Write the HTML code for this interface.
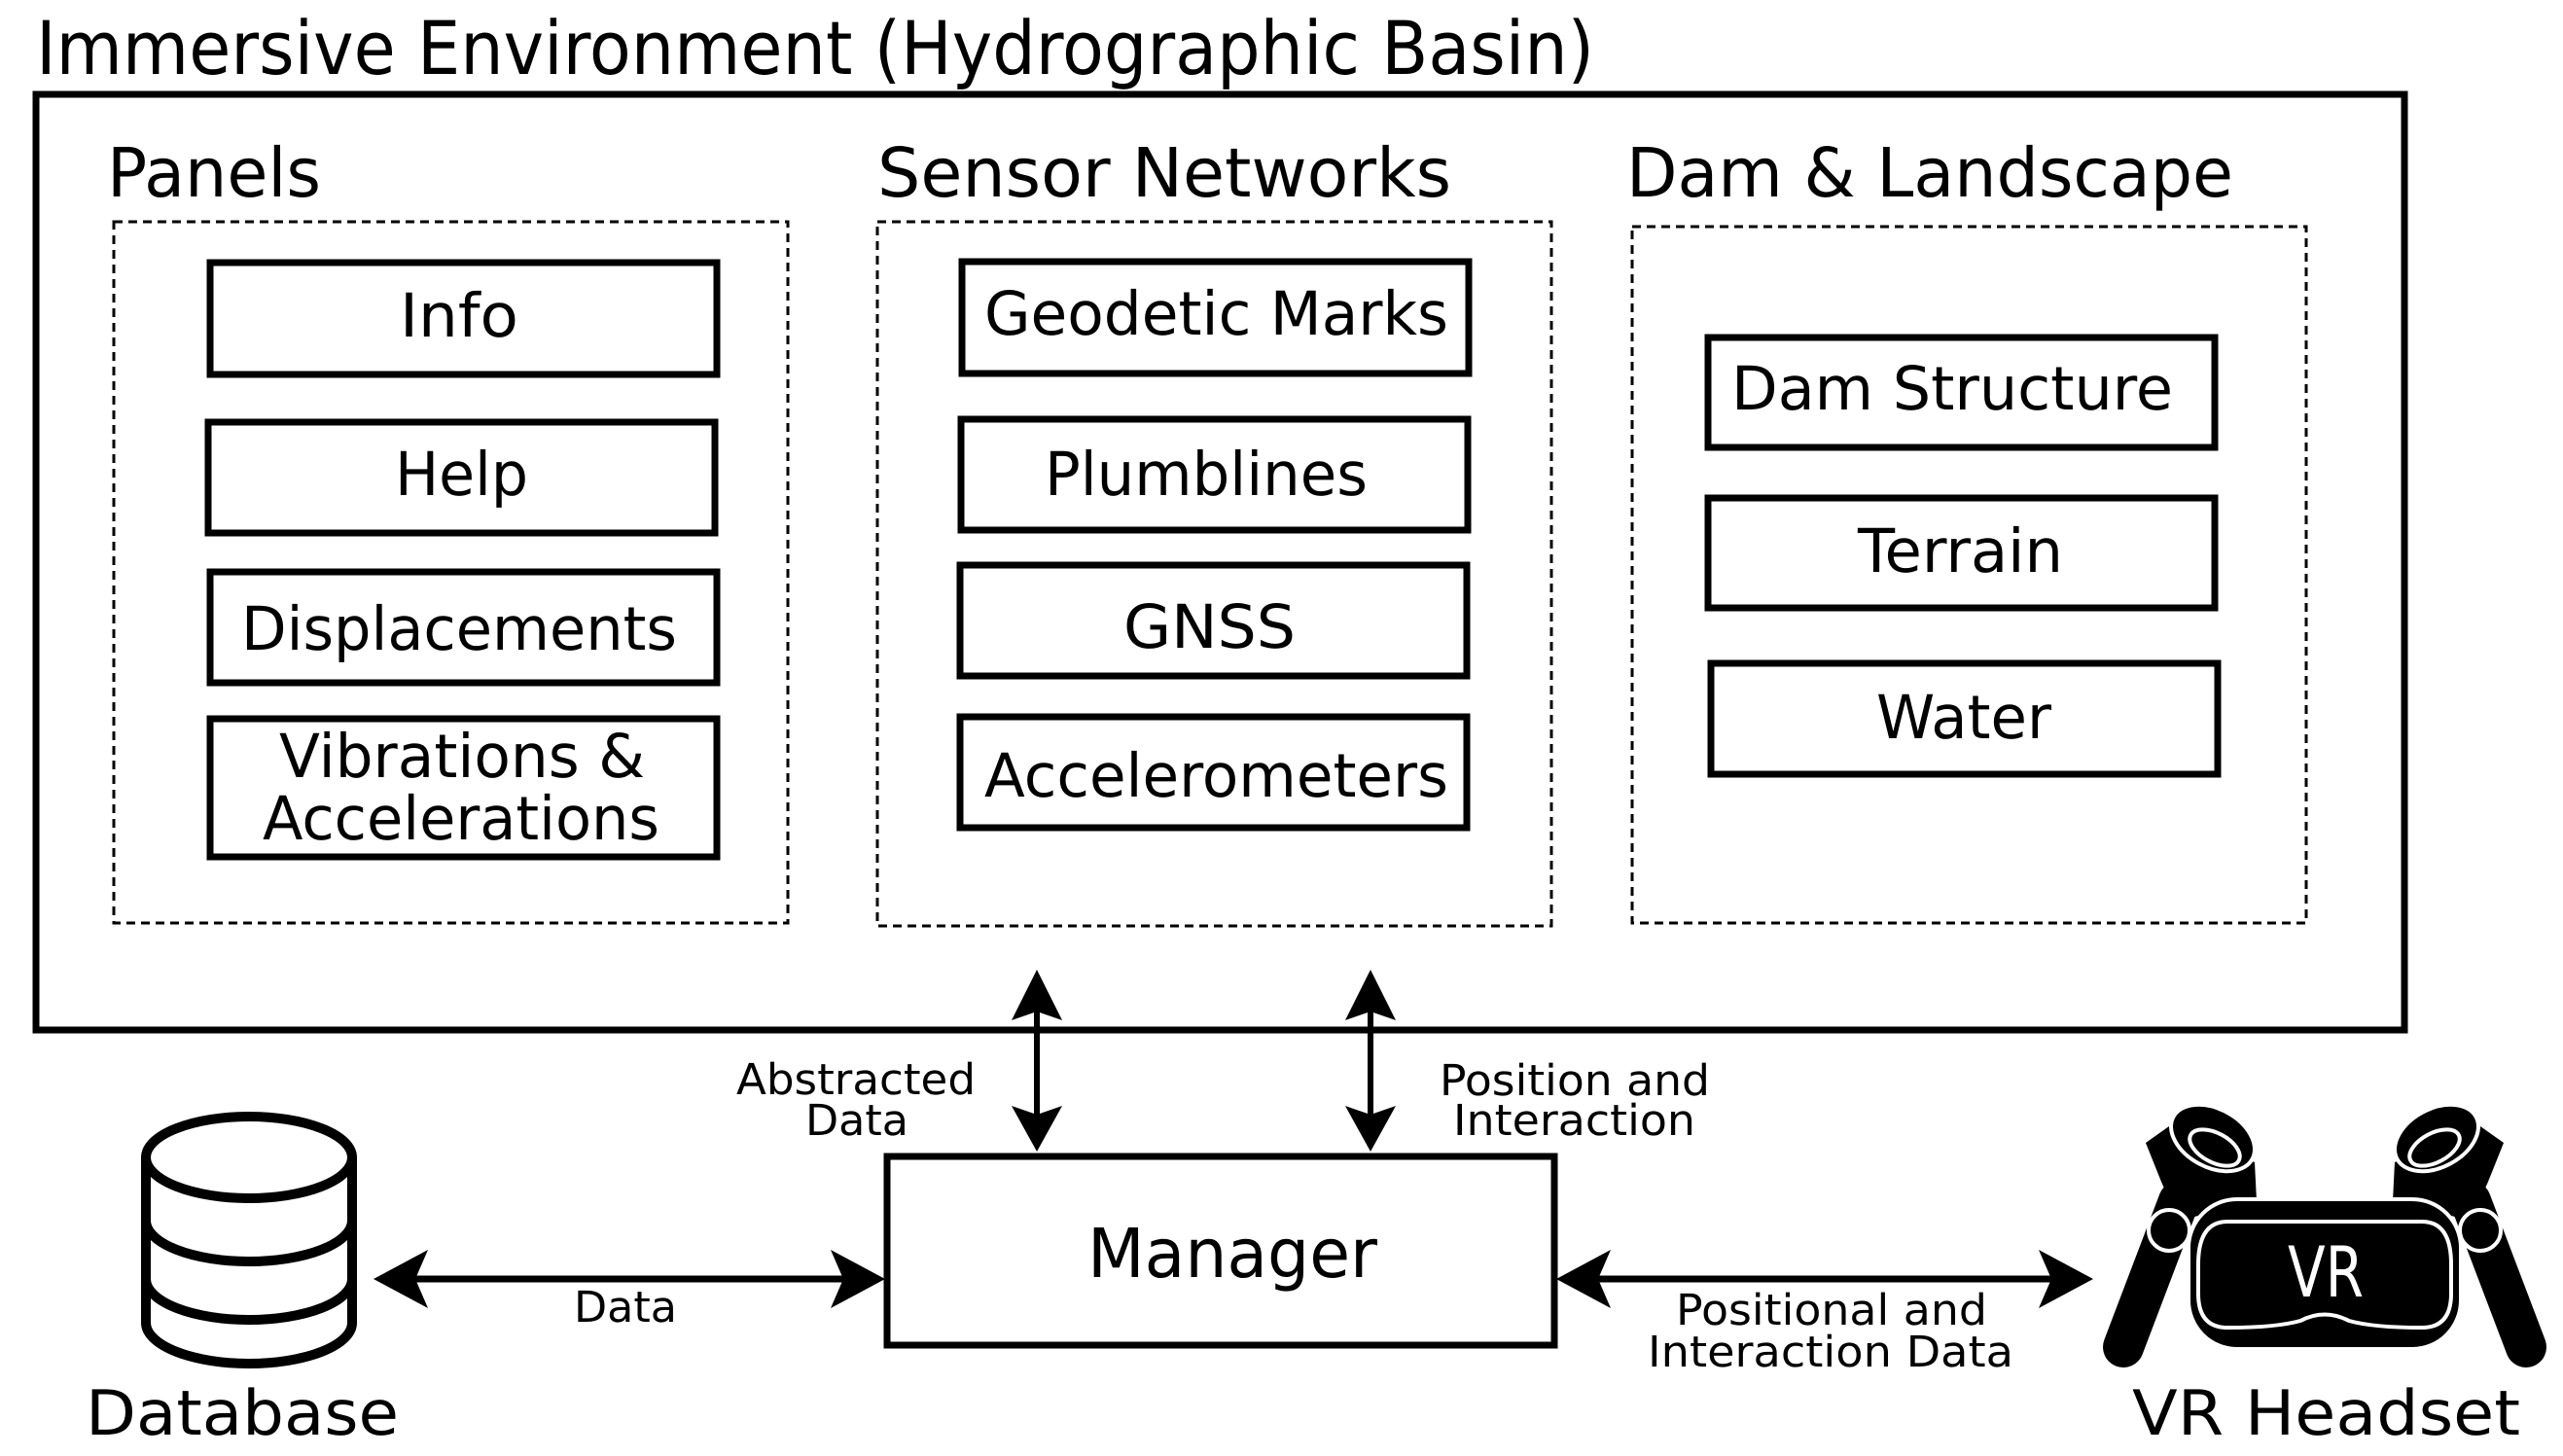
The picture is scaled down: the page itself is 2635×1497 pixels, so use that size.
<!DOCTYPE html>
<html><head><meta charset="utf-8"><style>html,body{margin:0;padding:0;background:#fff}svg{display:block}</style></head>
<body>
<svg width="2635" height="1497" viewBox="0 0 2635 1497" xmlns="http://www.w3.org/2000/svg" font-family="'DejaVu Sans','Liberation Sans',sans-serif" fill="#000">
<g text-rendering="geometricPrecision">
<text x="37" y="76" font-size="76" textLength="1602" lengthAdjust="spacingAndGlyphs">Immersive Environment (Hydrographic Basin)</text>
<rect x="37" y="97" width="2435" height="962" fill="none" stroke="#000" stroke-width="7"/>
<text x="110" y="202" font-size="70" textLength="220" lengthAdjust="spacingAndGlyphs">Panels</text>
<text x="902" y="202" font-size="70" textLength="590" lengthAdjust="spacingAndGlyphs">Sensor Networks</text>
<text x="1672" y="202" font-size="70" textLength="624" lengthAdjust="spacingAndGlyphs">Dam &amp; Landscape</text>
<g fill="none" stroke="#000" stroke-width="3" stroke-dasharray="9,6">
<rect x="117" y="228" width="693" height="721"/>
<rect x="902" y="228" width="693" height="724"/>
<rect x="1678" y="233" width="693" height="716"/>
</g>
<g fill="none" stroke="#000" stroke-width="7">
<rect x="216" y="270" width="521" height="115"/>
<rect x="214" y="434" width="521" height="114"/>
<rect x="216" y="588" width="521" height="114"/>
<rect x="216" y="739" width="521" height="142"/>
<rect x="989" y="269" width="521" height="115"/>
<rect x="988" y="431" width="521" height="114"/>
<rect x="987" y="581" width="521" height="114"/>
<rect x="987" y="737" width="521" height="114"/>
<rect x="1756" y="347" width="521" height="113"/>
<rect x="1756" y="512" width="521" height="113"/>
<rect x="1759" y="682" width="521" height="114"/>
<rect x="912" y="1189" width="686" height="194"/>
</g>
<g font-size="62">
<text x="411" y="346" textLength="122" lengthAdjust="spacingAndGlyphs">Info</text>
<text x="406" y="509" textLength="137" lengthAdjust="spacingAndGlyphs">Help</text>
<text x="248" y="668" textLength="448" lengthAdjust="spacingAndGlyphs">Displacements</text>
<text x="287" y="799" textLength="376" lengthAdjust="spacingAndGlyphs">Vibrations &amp;</text>
<text x="270" y="863" textLength="408" lengthAdjust="spacingAndGlyphs">Accelerations</text>
<text x="1012" y="344" textLength="477" lengthAdjust="spacingAndGlyphs">Geodetic Marks</text>
<text x="1074" y="509" textLength="332" lengthAdjust="spacingAndGlyphs">Plumblines</text>
<text x="1155" y="666" textLength="177" lengthAdjust="spacingAndGlyphs">GNSS</text>
<text x="1012" y="819" textLength="477" lengthAdjust="spacingAndGlyphs">Accelerometers</text>
<text x="1780" y="421" textLength="454" lengthAdjust="spacingAndGlyphs">Dam Structure</text>
<text x="1910" y="588" textLength="211" lengthAdjust="spacingAndGlyphs">Terrain</text>
<text x="1929" y="759" textLength="180" lengthAdjust="spacingAndGlyphs">Water</text>
</g>
<text x="1118" y="1313" font-size="70" textLength="298" lengthAdjust="spacingAndGlyphs">Manager</text>
<g font-size="44">
<text x="757" y="1125" textLength="246" lengthAdjust="spacingAndGlyphs">Abstracted</text>
<text x="828" y="1167" textLength="106" lengthAdjust="spacingAndGlyphs">Data</text>
<text x="1480" y="1126" textLength="278" lengthAdjust="spacingAndGlyphs">Position and</text>
<text x="1494" y="1167" textLength="249" lengthAdjust="spacingAndGlyphs">Interaction</text>
<text x="590" y="1359" textLength="106" lengthAdjust="spacingAndGlyphs">Data</text>
<text x="1723" y="1362" textLength="320" lengthAdjust="spacingAndGlyphs">Positional and</text>
<text x="1694" y="1405" textLength="376" lengthAdjust="spacingAndGlyphs">Interaction Data</text>
</g>
<text x="88" y="1475" font-size="64" textLength="322" lengthAdjust="spacingAndGlyphs">Database</text>
<text x="2192" y="1475" font-size="64" textLength="399" lengthAdjust="spacingAndGlyphs">VR Headset</text>
<!-- vertical arrows -->
<g stroke="#000" stroke-width="6">
<line x1="1066" y1="1030" x2="1066" y2="1150"/>
<line x1="1409" y1="1030" x2="1409" y2="1150"/>
<line x1="420" y1="1315" x2="880" y2="1315" stroke-width="7"/>
<line x1="1630" y1="1315" x2="2120" y2="1315" stroke-width="7"/>
</g>
<path d="M1066 997 L1092 1049 L1066 1040 L1040 1049Z"/>
<path d="M1066 1184 L1092 1137 L1066 1146 L1040 1137Z"/>
<path d="M1409 997 L1435 1049 L1409 1040 L1383 1049Z"/>
<path d="M1409 1184 L1435 1137 L1409 1146 L1383 1137Z"/>
<path d="M384 1315 L440 1285 L427 1315 L440 1345Z"/>
<path d="M910 1315 L854 1285 L867 1315 L854 1345Z"/>
<path d="M1600 1315 L1656 1285 L1643 1315 L1656 1345Z"/>
<path d="M2152 1315 L2096 1285 L2109 1315 L2096 1345Z"/>
<!-- database -->
<g fill="none" stroke="#000" stroke-width="10">
<ellipse cx="256" cy="1190" rx="106" ry="42"/>
<path d="M150 1190 V1360 A106 42 0 0 0 362 1360 V1190"/>
<path d="M150 1255 A106 42 0 0 0 362 1255"/>
<path d="M150 1315 A106 42 0 0 0 362 1315"/>
</g>
<!-- VR headset -->
<g>
<line x1="2240" y1="1235" x2="2183" y2="1385" stroke="#000" stroke-width="42" stroke-linecap="round"/>
<line x1="2540" y1="1235" x2="2597" y2="1385" stroke="#000" stroke-width="42" stroke-linecap="round"/>
<path d="M2206 1175 L2230 1158 L2318 1195 L2320 1235 L2240 1255 L2222 1215Z"/>
<path d="M2574 1175 L2550 1158 L2462 1195 L2460 1235 L2540 1255 L2558 1215Z"/>
<ellipse cx="2275" cy="1170" rx="46" ry="30" transform="rotate(28 2275 1170)" stroke="#fff" stroke-width="4"/>
<ellipse cx="2277" cy="1180" rx="28" ry="15" transform="rotate(28 2277 1180)" fill="none" stroke="#fff" stroke-width="4"/>
<ellipse cx="2505" cy="1170" rx="46" ry="30" transform="rotate(-28 2505 1170)" stroke="#fff" stroke-width="4"/>
<ellipse cx="2503" cy="1180" rx="28" ry="15" transform="rotate(-28 2503 1180)" fill="none" stroke="#fff" stroke-width="4"/>
<circle cx="2230" cy="1265" r="21" stroke="#fff" stroke-width="4"/>
<circle cx="2550" cy="1265" r="21" stroke="#fff" stroke-width="4"/>
<rect x="2250" y="1233" width="280" height="154" rx="50" stroke="#fff" stroke-width="4"/>
<path d="M2290 1256 H2490 Q2520 1256 2520 1300 V1330 Q2520 1365 2490 1365 Q2440 1365 2415 1358 Q2390 1345 2365 1358 Q2340 1365 2290 1365 Q2260 1365 2260 1330 V1300 Q2260 1256 2290 1256Z" fill="none" stroke="#fff" stroke-width="4"/>
<text x="2352" y="1333" font-size="72" fill="#fff" textLength="78" lengthAdjust="spacingAndGlyphs">VR</text>
</g>
</g>
</svg>
</body></html>
